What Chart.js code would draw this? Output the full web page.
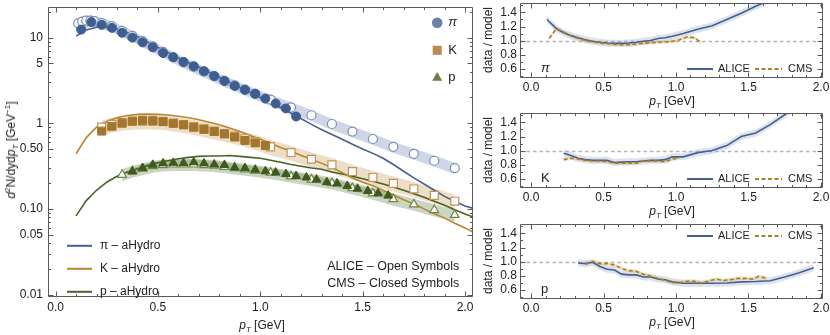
<!DOCTYPE html>
<html>
<head>
<meta charset="utf-8">
<script src="https://cdn.jsdelivr.net/npm/chart.js@4.4.0/dist/chart.umd.min.js"></script>
<style>
  body { margin: 0; background: #fff; }
  #wrap { position: relative; width: 830px; height: 335px; font-family: "Liberation Sans", Arial, sans-serif; color: #222; }
  canvas { position: absolute; }
  .t { position: absolute; font-size: 12px; line-height: 1; white-space: nowrap; transform: translate(-50%, -50%); }
  .rot { transform: translate(-50%, -50%) rotate(-90deg); }
  sub, sup { font-size: 8px; line-height: 0; }
</style>
</head>
<body>
<div id="wrap">
  <canvas id="main" width="480" height="335" style="left:0;top:0"></canvas>
  <canvas id="r1" width="350" height="110" style="left:480px;top:0"></canvas>
  <canvas id="r2" width="350" height="110" style="left:480px;top:110px"></canvas>
  <canvas id="r3" width="350" height="110" style="left:480px;top:221px"></canvas>

  <div class="t rot" style="left:11px;top:150px"><i>d</i><sup>2</sup>N/dyd<i>p</i><sub><i>T</i></sub> [GeV<sup>−1</sup>]</div>
  <div class="t" style="left:262px;top:325px"><i>p<sub>T</sub></i> [GeV]</div>
  <div class="t rot" style="left:488px;top:40px">data / model</div>
  <div class="t rot" style="left:488px;top:150px">data / model</div>
  <div class="t rot" style="left:488px;top:261px">data / model</div>
  <div class="t" style="left:672px;top:101px"><i>p<sub>T</sub></i> [GeV]</div>
  <div class="t" style="left:672px;top:211px"><i>p<sub>T</sub></i> [GeV]</div>
  <div class="t" style="left:672px;top:322px"><i>p<sub>T</sub></i> [GeV]</div>
</div>

<script>
const FONT = '"Liberation Sans", Arial, sans-serif';

// ---- spectra (left panel) ----
const modelPt = [0.10,0.15,0.20,0.25,0.30,0.35,0.40,0.45,0.50,0.55,0.60,0.65,0.70,0.75,0.80,0.85,0.90,0.95,1.00,1.05,
                 1.10,1.15,1.20,1.25,1.30,1.35,1.40,1.45,1.50,1.55,1.60,1.65,1.70,1.75,1.80,1.85,1.90,1.95,2.00,2.05];
const piModel = [10.4,12.3,13.2,13.3,12.6,11.5,10.3,8.9,7.7,6.7,5.8,5.1,4.5,3.95,3.45,3.0,2.62,2.3,2.0,1.75,
                 1.53,1.32,1.13,0.97,0.84,0.74,0.65,0.57,0.50,0.445,0.39,0.33,0.275,0.23,0.195,0.165,0.14,0.122,0.108,0.1];
const kModel  = [0.44,0.68,0.90,1.05,1.16,1.23,1.27,1.28,1.27,1.25,1.21,1.16,1.10,1.03,0.96,0.88,0.80,0.72,0.65,0.58,
                 0.52,0.47,0.42,0.38,0.34,0.305,0.265,0.23,0.205,0.186,0.165,0.145,0.128,0.114,0.10,0.088,0.078,0.068,0.06,0.052];
const pModel  = [0.083,0.125,0.165,0.205,0.24,0.27,0.295,0.32,0.345,0.365,0.385,0.40,0.41,0.415,0.415,0.42,0.41,0.40,0.39,0.37,
                 0.35,0.33,0.315,0.30,0.29,0.27,0.255,0.24,0.225,0.21,0.195,0.18,0.165,0.15,0.137,0.123,0.11,0.098,0.087,0.079];

const piAlicePt = [0.11,0.13,0.15,0.17,0.19,0.225,0.275,0.325,0.375,0.425,0.475,0.525,0.575,0.625,0.675,0.725,0.775,0.825,0.875,0.925,0.975,
                   1.05,1.15,1.25,1.35,1.45,1.55,1.65,1.75,1.85,1.95];
const piAlice   = [14.7,15.4,15.8,15.8,15.6,14.8,13.6,12.0,10.5,9.1,7.9,6.8,5.9,5.15,4.55,4.0,3.55,3.12,2.78,2.47,2.2,
                   1.89,1.53,1.24,0.98,0.80,0.655,0.53,0.44,0.365,0.30];
const piCmsPt = [0.125,0.175,0.225,0.275,0.325,0.375,0.425,0.475,0.525,0.575,0.625,0.675,0.725,0.775,0.825,0.875,0.925,0.975,1.025,1.075,1.125,1.175];
const piCms   = [12.4,15.2,14.1,13.0,11.4,10.0,8.8,7.7,6.6,5.9,5.2,4.64,4.06,3.56,3.12,2.73,2.46,2.21,1.94,1.70,1.49,1.20];

const kAlicePt = [0.225,0.275,0.325,0.375,0.425,0.475,0.525,0.575,0.625,0.675,0.725,0.775,0.825,0.875,0.925,0.975,
                  1.05,1.15,1.25,1.35,1.45,1.55,1.65,1.75,1.85,1.95];
const kAlice   = [0.90,0.97,1.02,1.05,1.06,1.06,1.04,1.0,0.96,0.91,0.86,0.81,0.76,0.71,0.66,0.61,
                  0.53,0.455,0.38,0.327,0.273,0.233,0.199,0.171,0.144,0.123];
const kCmsPt = [0.225,0.275,0.325,0.375,0.425,0.475,0.525,0.575,0.625,0.675,0.725,0.775,0.825,0.875,0.925,0.975,1.025];
const kCms   = [0.81,0.92,1.0,1.06,1.08,1.07,1.05,1.0,0.96,0.90,0.85,0.80,0.75,0.69,0.63,0.59,0.55];

const pAlicePt = [0.325,0.375,0.425,0.475,0.525,0.575,0.625,0.675,0.725,0.775,0.825,0.875,0.925,0.975,
                  1.05,1.15,1.25,1.35,1.45,1.55,1.65,1.75,1.85,1.95];
const pAlice   = [0.25,0.275,0.295,0.315,0.325,0.33,0.33,0.33,0.325,0.32,0.31,0.30,0.29,0.28,
                  0.265,0.24,0.22,0.20,0.175,0.152,0.13,0.113,0.097,0.085];
const pCmsPt = [0.375,0.425,0.475,0.525,0.575,0.625,0.675,0.725,0.775,0.825,0.875,0.925,0.975,1.025,1.075,1.125,1.175,
                1.225,1.275,1.325,1.375,1.425,1.475,1.525,1.575,1.625];
const pCms   = [0.273,0.30,0.327,0.34,0.345,0.342,0.35,0.34,0.33,0.326,0.305,0.30,0.287,0.275,0.266,0.255,0.242,
                0.233,0.22,0.205,0.198,0.185,0.172,0.162,0.152,0.143];

// relative size of the shaded uncertainty bands
const piBand = 0.15, kBand = 0.2, pBand = 0.16, cmsBand = 0.09;

const speciesNames = ['π', 'K', 'p'];
const modelNames = ['π – aHydro', 'K – aHydro', 'p – aHydro'];
const expNotes = ['ALICE – Open Symbols', 'CMS – Closed Symbols'];

const xMajor = [0, 0.5, 1, 1.5, 2];
const xLabels = ['0.0', '0.5', '1.0', '1.5', '2.0'];
const xMinor = [0.1,0.2,0.3,0.4,0.6,0.7,0.8,0.9,1.1,1.2,1.3,1.4,1.6,1.7,1.8,1.9];
const yMajor = [0.01, 0.05, 0.1, 0.5, 1, 5, 10];
const yLabels = ['0.01', '0.05', '0.10', '0.50', '1', '5', '10'];
const yMinor = [0.02,0.03,0.04,0.06,0.07,0.08,0.09,0.2,0.3,0.4,0.6,0.7,0.8,0.9,2,3,4,6,7,8,9,20];

// ---- ratio panels (right) ----
const piAliceRatioPt = [0.11,0.13,0.15,0.17,0.19,0.225,0.275,0.325,0.375,0.425,0.475,0.525,0.575,0.625,0.675,0.725,0.775,0.825,0.875,0.925,0.975,
                        1.05,1.15,1.25,1.35,1.45,1.55,1.65];
const piAliceRatio = [1.30,1.26,1.22,1.18,1.15,1.11,1.07,1.04,1.01,0.99,0.975,0.965,0.96,0.96,0.965,0.975,0.99,1.0,1.03,1.04,1.06,
                      1.10,1.16,1.21,1.30,1.39,1.49,1.58];
const piCmsRatio = [1.03,1.17,1.12,1.07,1.03,1.0,0.98,0.965,0.955,0.945,0.94,0.94,0.95,0.96,0.97,0.975,0.98,0.99,1.01,1.05,1.04,0.97];

const kAliceRatio = [0.96,0.93,0.89,0.87,0.86,0.86,0.86,0.83,0.835,0.84,0.84,0.85,0.86,0.86,0.87,0.91,
                     0.91,0.97,1.0,1.07,1.20,1.25,1.37,1.51,1.65,1.8];
const kCmsRatio = [0.87,0.89,0.88,0.86,0.85,0.85,0.84,0.82,0.82,0.82,0.82,0.85,0.85,0.85,0.84,0.88,0.90];

const pAliceRatio = [0.98,0.97,0.99,0.93,0.89,0.88,0.82,0.81,0.81,0.78,0.78,0.75,0.74,0.71,
                     0.69,0.69,0.69,0.695,0.71,0.715,0.725,0.78,0.84,0.91];
const pCmsRatio = [0.96,1.0,0.97,0.97,0.95,0.90,0.87,0.86,0.82,0.79,0.76,0.73,0.70,0.70,0.72,0.72,0.69,
                   0.72,0.75,0.73,0.74,0.76,0.76,0.75,0.79,0.76];
const aliceRatioBand = 0.05, cmsRatioBand = 0.025;

const rYMajor = [0.6, 0.8, 1.0, 1.2, 1.4];
const rYLabels = ['0.6', '0.8', '1.0', '1.2', '1.4'];
const rYMinor = [0.5, 0.7, 0.9, 1.1, 1.3, 1.5];

// colours
const BLUE = '#46608e', BROWN = '#b7862d', GREEN = '#4a6325';
const C = {
  pi: { line: BLUE, fill: '#3e5d90', open: '#7892bb', band: 'rgba(110,135,180,0.33)', legend: '#6a82ab', style: 'circle', r: 4.5 },
  k:  { line: BROWN, fill: '#a3762f', open: '#c0935a', band: 'rgba(200,160,95,0.35)', legend: '#b88b4e', style: 'rect', r: 5.6 },
  p:  { line: GREEN, fill: '#3f5a1c', open: '#6c8648', band: 'rgba(105,135,80,0.35)', legend: '#6b7e49', style: 'triangle', r: 5 }
};

const pts = (xs, ys, f = 1) => xs.map((x, i) => ({ x, y: ys[i] * f }));
const shift = (xs, ys, d) => xs.map((x, i) => ({ x, y: ys[i] + d }));

function band(upper, lower, color, order) {
  return [
    { data: upper, fill: '+1', backgroundColor: color, borderColor: 'transparent', borderWidth: 1, pointRadius: 0, order },
    { data: lower, fill: false, borderColor: 'transparent', borderWidth: 1, pointRadius: 0, order }
  ];
}
function markers(data, c, open, order) {
  return { data, showLine: false, pointStyle: c.style, pointRadius: c.r, order,
           pointBackgroundColor: open ? '#fff' : c.fill, pointBorderColor: open ? c.open : c.fill,
           pointBorderWidth: open ? 1.2 : 1 };
}
function curve(data, color, order, dash) {
  return { data, borderColor: color, borderWidth: 1.6, pointRadius: 0, fill: false, order, borderDash: dash || [] };
}
// keep the plot frame exactly where it is asked to be
function noPad(s) { s.paddingTop = 0; s.paddingBottom = 0; s.paddingLeft = 0; s.paddingRight = 0; }

const mainSets = [
  ...band(pts(piAlicePt, piAlice, 1 + piBand), pts(piAlicePt, piAlice, 1 - piBand), C.pi.band, 5),
  ...band(pts(kAlicePt, kAlice, 1 + kBand), pts(kAlicePt, kAlice, 1 - kBand), C.k.band, 5),
  ...band(pts(pAlicePt, pAlice, 1 + pBand), pts(pAlicePt, pAlice, 1 - pBand), C.p.band, 5),
  ...band(pts(piCmsPt, piCms, 1 + cmsBand), pts(piCmsPt, piCms, 1 - cmsBand), C.pi.band, 5),
  ...band(pts(kCmsPt, kCms, 1 + cmsBand), pts(kCmsPt, kCms, 1 - cmsBand), C.k.band, 5),
  ...band(pts(pCmsPt, pCms, 1 + cmsBand), pts(pCmsPt, pCms, 1 - cmsBand), C.p.band, 5),
  curve(pts(modelPt, piModel), C.pi.line, 3),
  curve(pts(modelPt, kModel), C.k.line, 3),
  curve(pts(modelPt, pModel), C.p.line, 3),
  markers(pts(piAlicePt, piAlice), C.pi, true, 2),
  markers(pts(kAlicePt, kAlice), C.k, true, 2),
  markers(pts(pAlicePt, pAlice), C.p, true, 2),
  markers(pts(piCmsPt, piCms), C.pi, false, 1),
  markers(pts(kCmsPt, kCms), C.k, false, 1),
  markers(pts(pCmsPt, pCms), C.p, false, 1)
];

// frame with inward ticks on all four sides
const framePlugin = {
  id: 'frame',
  afterDatasetsDraw(chart, args, o) {
    const { ctx, chartArea: a } = chart;
    const sx = chart.scales.x, sy = chart.scales.y;
    const L = Math.round(a.left) + 0.5, R = Math.round(a.right) - 0.5;
    const T = Math.round(a.top) + 0.5, B = Math.round(a.bottom) - 0.5;
    ctx.save();
    ctx.strokeStyle = '#5a5a5a';
    ctx.lineWidth = 1;
    ctx.beginPath();
    ctx.rect(L, T, R - L, B - T);
    const xt = (vals, len) => vals.forEach(v => {
      const px = Math.round(sx.getPixelForValue(v)) + 0.5;
      ctx.moveTo(px, B); ctx.lineTo(px, B - len);
      ctx.moveTo(px, T); ctx.lineTo(px, T + len);
    });
    const yt = (vals, len) => vals.forEach(v => {
      const py = Math.round(sy.getPixelForValue(v)) + 0.5;
      ctx.moveTo(L, py); ctx.lineTo(L + len, py);
      ctx.moveTo(R, py); ctx.lineTo(R - len, py);
    });
    xt(o.xMajor, 5); xt(o.xMinor, 2.5);
    yt(o.yMajor, 5); yt(o.yMinor, 2.5);
    ctx.stroke();
    ctx.restore();
  }
};

const mainLegend = {
  id: 'mainLegend',
  afterDraw(chart) {
    const ctx = chart.ctx;
    const a = chart.chartArea;
    ctx.save();
    ctx.textBaseline = 'middle';
    const sp = [C.pi, C.k, C.p];
    sp.forEach((c, i) => {
      const y = a.top + 16 + i * 27.5;
      ctx.fillStyle = c.legend;
      Chart.helpers.drawPoint(ctx, { pointStyle: c.style, radius: c.r + 0.8, borderWidth: 0, rotation: 0 }, a.right - 36, y);
      ctx.fillStyle = '#222';
      ctx.font = (i === 0 ? 'italic ' : '') + '13px ' + FONT;
      ctx.fillText(speciesNames[i], a.right - 25, y);
    });
    sp.forEach((c, i) => {
      const y = a.top + 239 + i * 23;
      ctx.strokeStyle = c.line;
      ctx.lineWidth = 2;
      ctx.beginPath(); ctx.moveTo(a.left + 19, y); ctx.lineTo(a.left + 44, y); ctx.stroke();
      ctx.fillStyle = '#222';
      ctx.font = '12px ' + FONT;
      ctx.fillText(modelNames[i], a.left + 52, y);
    });
    ctx.textAlign = 'right';
    ctx.font = '12.5px ' + FONT;
    expNotes.forEach((s, i) => ctx.fillText(s, a.right - 14, a.top + 260 + i * 17));
    ctx.restore();
  }
};

new Chart(document.getElementById('main'), {
  type: 'line',
  data: { datasets: mainSets },
  options: {
    responsive: false,
    animation: false,
    layout: { padding: { top: 3, right: 6, left: 0, bottom: 0 } },
    plugins: {
      legend: { display: false },
      tooltip: { enabled: false },
      frame: { xMajor, xMinor, yMajor, yMinor }
    },
    scales: {
      x: {
        type: 'linear', min: -0.037, max: 2.04, bounds: 'data',
        grid: { display: false, drawTicks: false }, border: { display: false },
        afterBuildTicks: s => { s.ticks = xMajor.map(v => ({ value: v })); },
        afterFit: s => { s.height = 38; noPad(s); },
        ticks: { autoSkip: false, maxRotation: 0, padding: 3, color: '#222', font: { size: 12, family: FONT },
                 callback: v => xLabels[xMajor.indexOf(v)] }
      },
      y: {
        type: 'logarithmic', min: 0.00936, max: 22.9, bounds: 'data',
        grid: { display: false, drawTicks: false }, border: { display: false },
        afterBuildTicks: s => { s.ticks = yMajor.map(v => ({ value: v })); },
        afterFit: s => { s.width = 48; noPad(s); },
        ticks: { autoSkip: false, padding: 5, color: '#222', font: { size: 12, family: FONT },
                 callback: v => yLabels[yMajor.indexOf(v)] }
      }
    }
  },
  plugins: [framePlugin, mainLegend]
});

// ---- ratio panels ----
const refLine = {
  id: 'refLine',
  beforeDatasetsDraw(chart) {
    const { ctx, chartArea: a } = chart;
    const py = Math.round(chart.scales.y.getPixelForValue(1)) + 0.5;
    ctx.save();
    ctx.strokeStyle = '#b4b4b4';
    ctx.lineWidth = 1.3;
    ctx.setLineDash([3.5, 3]);
    ctx.beginPath(); ctx.moveTo(a.left, py); ctx.lineTo(a.right, py); ctx.stroke();
    ctx.restore();
  }
};
const ratioLegend = {
  id: 'ratioLegend',
  afterDraw(chart, args, o) {
    const { ctx, chartArea: a } = chart;
    const y = o.top ? a.top + 12 : a.bottom - 9;
    ctx.save();
    ctx.textBaseline = 'middle';
    ctx.lineWidth = 2;
    ctx.strokeStyle = BLUE;
    ctx.beginPath(); ctx.moveTo(a.left + 167, y); ctx.lineTo(a.left + 193, y); ctx.stroke();
    ctx.strokeStyle = '#b07d20';
    ctx.setLineDash([4, 2.5]);
    ctx.beginPath(); ctx.moveTo(a.left + 235, y); ctx.lineTo(a.left + 262, y); ctx.stroke();
    ctx.fillStyle = '#222';
    ctx.font = '11px ' + FONT;
    ctx.fillText('ALICE', a.left + 198, y);
    ctx.fillText('CMS', a.left + 268, y);
    ctx.font = (o.italic ? 'italic ' : '') + '13px ' + FONT;
    ctx.fillText(o.label, a.left + 21, a.bottom - 10);
    ctx.restore();
  }
};

function ratioChart(id, label, aPt, aR, cPt, cR, top, italic) {
  new Chart(document.getElementById(id), {
    type: 'line',
    data: {
      datasets: [
        ...band(shift(aPt, aR, aliceRatioBand), shift(aPt, aR, -aliceRatioBand), 'rgba(150,170,205,0.33)', 4),
        ...band(shift(cPt, cR, cmsRatioBand), shift(cPt, cR, -cmsRatioBand), 'rgba(215,175,100,0.35)', 3),
        curve(pts(aPt, aR), BLUE, 2),
        curve(pts(cPt, cR), '#b07d20', 1, [4, 2.5])
      ]
    },
    options: {
      responsive: false,
      animation: false,
      layout: { padding: { top: 3, right: 7, left: 0, bottom: 0 } },
      plugins: {
        legend: { display: false },
        tooltip: { enabled: false },
        frame: { xMajor, xMinor, yMajor: rYMajor, yMinor: rYMinor },
        ratioLegend: { label, top, italic }
      },
      scales: {
        x: {
          type: 'linear', min: -0.076, max: 2.014, bounds: 'data',
          grid: { display: false, drawTicks: false }, border: { display: false },
          afterBuildTicks: s => { s.ticks = xMajor.map(v => ({ value: v })); },
          afterFit: s => { s.height = 32; noPad(s); },
          ticks: { autoSkip: false, maxRotation: 0, padding: 2, color: '#222', font: { size: 12, family: FONT },
                   callback: v => xLabels[xMajor.indexOf(v)] }
        },
        y: {
          type: 'linear', min: 0.466, max: 1.535, bounds: 'data',
          grid: { display: false, drawTicks: false }, border: { display: false },
          afterBuildTicks: s => { s.ticks = rYMajor.map(v => ({ value: v })); },
          afterFit: s => { s.width = 40; noPad(s); },
          ticks: { autoSkip: false, padding: 3, color: '#222', font: { size: 12, family: FONT },
                   callback: v => rYLabels[rYMajor.indexOf(v)] }
        }
      }
    },
    plugins: [refLine, framePlugin, ratioLegend]
  });
}

ratioChart('r1', speciesNames[0], piAliceRatioPt, piAliceRatio, piCmsPt, piCmsRatio, false, true);
ratioChart('r2', speciesNames[1], kAlicePt, kAliceRatio, kCmsPt, kCmsRatio, false, false);
ratioChart('r3', speciesNames[2], pAlicePt, pAliceRatio, pCmsPt, pCmsRatio, true, false);
</script>
</body>
</html>
